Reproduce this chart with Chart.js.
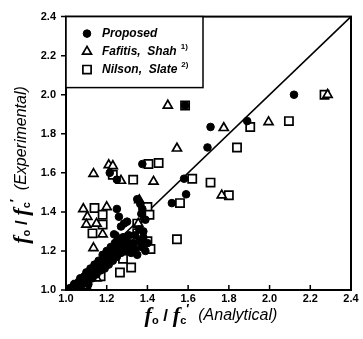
<!DOCTYPE html>
<html lang="en">
<head>
<meta charset="UTF-8">
<title>fo/fc' analytical vs experimental</title>
<script src="https://cdn.jsdelivr.net/npm/chart.js"></script>
<style>
  html, body { margin: 0; padding: 0; background: #fff; }
</style>
</head>
<body>
<canvas id="chart" width="363" height="339"></canvas>
<script>
  // axis range and tick step
  const axisMin = 1.0;
  const axisMax = 2.4;
  const axisStep = 0.2;
  const diagonal = [1.0, 2.4];

  // [analytical, experimental] pairs
  const proposed = [
    [2.12, 2.00], [1.71, 1.835], [1.89, 1.865], [1.695, 1.73], [1.59, 1.49], [1.58, 1.57],
    [1.52, 1.445], [1.585, 1.945], [1.375, 1.645], [1.215, 1.60], [1.25, 1.565], [1.25, 1.415],
    [1.26, 1.375], [1.285, 1.34], [1.27, 1.325], [1.30, 1.35], [1.236, 1.285], [1.375, 1.415],
    [1.365, 1.44], [1.35, 1.465], [1.37, 1.39], [1.39, 1.36],
    [1.02, 1.01], [1.03, 1.00], [1.04, 1.03], [1.05, 1.02], [1.06, 1.04], [1.06, 1.01],
    [1.07, 1.06], [1.08, 1.03], [1.09, 1.07], [1.10, 1.05], [1.10, 1.09], [1.11, 1.03],
    [1.12, 1.08], [1.12, 1.11], [1.13, 1.06], [1.14, 1.10], [1.14, 1.13], [1.15, 1.08],
    [1.16, 1.12], [1.16, 1.15], [1.17, 1.10], [1.18, 1.14], [1.18, 1.18], [1.19, 1.11],
    [1.20, 1.16], [1.20, 1.20], [1.21, 1.13], [1.22, 1.18], [1.22, 1.22], [1.23, 1.15],
    [1.24, 1.20], [1.24, 1.24], [1.25, 1.17], [1.26, 1.22], [1.26, 1.26], [1.27, 1.19],
    [1.28, 1.23], [1.28, 1.27], [1.29, 1.20], [1.30, 1.25], [1.31, 1.22], [1.31, 1.28],
    [1.32, 1.19], [1.33, 1.24], [1.34, 1.21], [1.34, 1.28], [1.35, 1.18], [1.36, 1.25],
    [1.37, 1.22], [1.38, 1.27], [1.39, 1.20], [1.40, 1.24], [1.38, 1.30], [1.36, 1.31]
  ];
  const fafitisShah = [
    [2.285, 2.00], [1.775, 1.83], [1.995, 1.86], [1.765, 1.485], [1.50, 1.945], [1.545, 1.725],
    [1.135, 1.595], [1.21, 1.64], [1.23, 1.635], [1.27, 1.56], [1.43, 1.555], [1.36, 1.46],
    [1.085, 1.415], [1.20, 1.425], [1.105, 1.375], [1.10, 1.335], [1.15, 1.34], [1.18, 1.285],
    [1.135, 1.215], [1.355, 1.34], [1.15, 1.06], [1.255, 1.265], [1.035, 1.02], [1.33, 1.22]
  ];
  const nilsonSlate = [
    [2.27, 2.00], [1.905, 1.835], [2.095, 1.865], [1.84, 1.73], [1.71, 1.55], [1.80, 1.485],
    [1.585, 1.945], [1.405, 1.645], [1.455, 1.65], [1.23, 1.59], [1.33, 1.565], [1.62, 1.57],
    [1.56, 1.445], [1.14, 1.42], [1.18, 1.385], [1.18, 1.335], [1.13, 1.29], [1.40, 1.425],
    [1.41, 1.385], [1.35, 1.34], [1.35, 1.29], [1.40, 1.25], [1.415, 1.21], [1.545, 1.26],
    [1.32, 1.115], [1.265, 1.09], [1.10, 1.03], [1.17, 1.07], [1.28, 1.16]
  ];

  const toPoints = arr => arr.map(p => ({ x: p[0], y: p[1] }));

  const circleStyle = { pointStyle: 'circle', radius: 3.8, backgroundColor: '#000', borderColor: '#000', borderWidth: 1 };
  const triStyle = { pointStyle: 'triangle', radius: 5.2, backgroundColor: '#fff', borderColor: '#000', borderWidth: 1.7 };
  const rectStyle = { pointStyle: 'rect', radius: 5.8, backgroundColor: '#fff', borderColor: '#000', borderWidth: 1.7 };

  const legendItems = [
    { label: 'Proposed', sup: '', style: circleStyle },
    { label: 'Fafitis,  Shah', sup: '1)', style: triStyle },
    { label: 'Nilson,  Slate', sup: '2)', style: rectStyle }
  ];

  function drawMarker(ctx, style, x, y) {
    ctx.save();
    ctx.fillStyle = style.backgroundColor;
    ctx.strokeStyle = style.borderColor;
    ctx.lineWidth = style.borderWidth;
    Chart.helpers.drawPoint(ctx, { pointStyle: style.pointStyle, radius: style.radius, borderWidth: style.borderWidth }, x, y);
    ctx.restore();
  }

  // f_o / f_c' (tail)
  function drawFormula(ctx, cx, cy, tail) {
    const parts = [
      { t: 'f', font: 'italic bold 22px "Liberation Serif"', dy: 0 },
      { t: 'o', font: 'bold 11px "Liberation Sans"', dy: 5 },
      { t: ' / ', font: 'bold 17px "Liberation Sans"', dy: 0 },
      { t: 'f', font: 'italic bold 22px "Liberation Serif"', dy: 0 },
      { t: 'c', font: 'bold 11px "Liberation Sans"', dy: 5 },
      { t: '\u2032', font: 'bold 13px "Liberation Sans"', dy: -7 },
      { t: '  ' + tail, font: 'italic 16px "Liberation Sans"', dy: 0 }
    ];
    let total = 0;
    parts.forEach(p => { ctx.font = p.font; p.w = ctx.measureText(p.t).width; total += p.w; });
    let x = cx - total / 2;
    ctx.fillStyle = '#000';
    ctx.textAlign = 'left';
    ctx.textBaseline = 'middle';
    parts.forEach(p => {
      ctx.font = p.font;
      ctx.fillText(p.t, x, cy + p.dy);
      x += p.w;
    });
  }

  const decorations = {
    id: 'decorations',
    afterDraw(chart) {
      const ctx = chart.ctx;
      const area = chart.chartArea;
      const xs = chart.scales.x;
      const ys = chart.scales.y;
      ctx.save();
      ctx.strokeStyle = '#000';

      // tick marks: inward on x, outward on y
      ctx.lineWidth = 1.5;
      for (let v = axisMin; v <= axisMax + 1e-9; v += axisStep) {
        const px = xs.getPixelForValue(v);
        const py = ys.getPixelForValue(v);
        ctx.beginPath();
        ctx.moveTo(px, area.bottom);
        ctx.lineTo(px, area.bottom - 5);
        ctx.moveTo(area.left, py);
        ctx.lineTo(area.left - 5, py);
        ctx.stroke();
      }

      // frame
      ctx.lineWidth = 2;
      ctx.strokeRect(area.left, area.top, area.right - area.left, area.bottom - area.top);

      // legend box
      const boxW = 137, boxH = 71;
      ctx.lineWidth = 1.5;
      ctx.fillStyle = '#fff';
      ctx.fillRect(area.left, area.top, boxW, boxH);
      ctx.strokeRect(area.left, area.top, boxW, boxH);
      legendItems.forEach((item, i) => {
        const y = area.top + 17 + i * 18;
        drawMarker(ctx, item.style, area.left + 21, y);
        ctx.fillStyle = '#000';
        ctx.font = 'italic bold 12px "Liberation Sans"';
        ctx.textAlign = 'left';
        ctx.textBaseline = 'middle';
        ctx.fillText(item.label, area.left + 36, y);
        if (item.sup) {
          const w = ctx.measureText(item.label).width;
          ctx.font = 'bold 8px "Liberation Sans"';
          ctx.fillText(item.sup, area.left + 36 + w + 4, y - 5);
        }
      });

      // axis titles
      drawFormula(ctx, 211, 316, '(Analytical)');
      ctx.translate(22, 165);
      ctx.rotate(-Math.PI / 2);
      drawFormula(ctx, 0, 0, '(Experimental)');
      ctx.restore();
    }
  };

  const datasetStyle = s => ({
    pointStyle: s.pointStyle,
    pointRadius: s.radius,
    pointBackgroundColor: s.backgroundColor,
    pointBorderColor: s.borderColor,
    pointBorderWidth: s.borderWidth,
    showLine: false
  });

  new Chart(document.getElementById('chart').getContext('2d'), {
    type: 'scatter',
    data: {
      datasets: [
        Object.assign({ label: 'Proposed', data: toPoints(proposed) }, datasetStyle(circleStyle)),
        Object.assign({ label: 'Fafitis, Shah', data: toPoints(fafitisShah) }, datasetStyle(triStyle)),
        Object.assign({ label: 'Nilson, Slate', data: toPoints(nilsonSlate) }, datasetStyle(rectStyle)),
        {
          type: 'line',
          label: 'y = x',
          data: diagonal.map(v => ({ x: v, y: v })),
          borderColor: '#000',
          borderWidth: 1.6,
          pointRadius: 0,
          fill: false
        }
      ]
    },
    options: {
      responsive: false,
      animation: false,
      layout: { padding: { top: 9, right: 12, left: 0, bottom: 0 } },
      plugins: { legend: { display: false }, tooltip: { enabled: false } },
      scales: {
        x: {
          type: 'linear', min: axisMin, max: axisMax,
          grid: { display: false, drawTicks: false },
          border: { display: false },
          afterFit: s => { s.height = 49; },
          ticks: {
            stepSize: axisStep, padding: 2, color: '#000',
            font: { family: 'Liberation Sans', size: 11, weight: 'bold' },
            callback: v => v.toFixed(1)
          }
        },
        y: {
          type: 'linear', min: axisMin, max: axisMax,
          grid: { display: false, drawTicks: false },
          border: { display: false },
          afterFit: s => { s.width = 66; },
          ticks: {
            stepSize: axisStep, padding: 10, color: '#000',
            font: { family: 'Liberation Sans', size: 11, weight: 'bold' },
            callback: v => v.toFixed(1)
          }
        }
      }
    },
    plugins: [decorations]
  });
</script>
</body>
</html>
